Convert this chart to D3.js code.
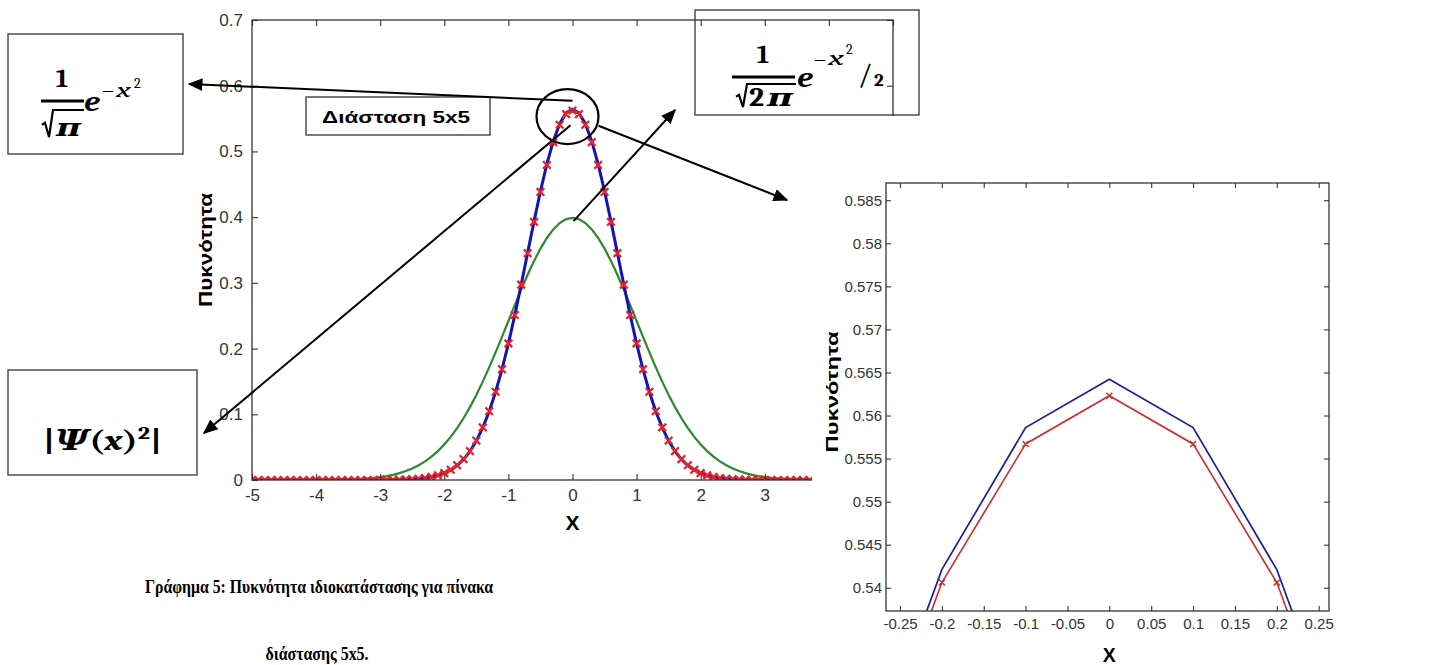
<!DOCTYPE html>
<html>
<head>
<meta charset="utf-8">
<script src="https://cdn.jsdelivr.net/npm/d3@7"></script>
<style>
  body { margin: 0; background: #fff; }
  svg { display: block; }
</style>
</head>
<body>
<svg id="chart"></svg>
<script>
// sample points of the eigenstate (x = -5 .. 5, step 0.1)
const xValues = [
  -5.0, -4.9, -4.8, -4.7, -4.6, -4.5, -4.4, -4.3, -4.2, -4.1,
  -4.0, -3.9, -3.8, -3.7, -3.6, -3.5, -3.4, -3.3, -3.2, -3.1,
  -3.0, -2.9, -2.8, -2.7, -2.6, -2.5, -2.4, -2.3, -2.2, -2.1,
  -2.0, -1.9, -1.8, -1.7, -1.6, -1.5, -1.4, -1.3, -1.2, -1.1,
  -1.0, -0.9, -0.8, -0.7, -0.6, -0.5, -0.4, -0.3, -0.2, -0.1,
  0.0,
  0.1, 0.2, 0.3, 0.4, 0.5, 0.6, 0.7, 0.8, 0.9, 1.0,
  1.1, 1.2, 1.3, 1.4, 1.5, 1.6, 1.7, 1.8, 1.9, 2.0,
  2.1, 2.2, 2.3, 2.4, 2.5, 2.6, 2.7, 2.8, 2.9, 3.0,
  3.1, 3.2, 3.3, 3.4, 3.5, 3.6, 3.7, 3.8, 3.9, 4.0,
  4.1, 4.2, 4.3, 4.4, 4.5, 4.6, 4.7, 4.8, 4.9, 5.0
];

// |Psi(x)^2| (red x markers)
const psiSquared = [
  0, 0, 0, 0, 0, 0, 0, 0, 0, 0,
  0, 0, 0, 0, 0, 0, 0, 0, 0, 0,
  0.0001, 0.0002, 0.0003, 0.0005, 0.0008, 0.0012, 0.0019, 0.0030, 0.0047, 0.0071,
  0.0106, 0.0156, 0.0225, 0.0318, 0.0441, 0.0600, 0.0801, 0.1047, 0.1343, 0.1687,
  0.2079, 0.2511, 0.2973, 0.3451, 0.3928, 0.4383, 0.4795, 0.5141, 0.5406, 0.5567,
  0.5623,
  0.5567, 0.5406, 0.5141, 0.4795, 0.4383, 0.3928, 0.3451, 0.2973, 0.2511, 0.2079,
  0.1687, 0.1343, 0.1047, 0.0801, 0.0600, 0.0441, 0.0318, 0.0225, 0.0156, 0.0106,
  0.0071, 0.0047, 0.0030, 0.0019, 0.0012, 0.0008, 0.0005, 0.0003, 0.0002, 0.0001,
  0, 0, 0, 0, 0, 0, 0, 0, 0, 0,
  0, 0, 0, 0, 0, 0, 0, 0, 0, 0
];

// (1/sqrt(pi)) e^(-x^2) (blue line)
const gaussNarrow = [
  0, 0, 0, 0, 0, 0, 0, 0, 0, 0,
  0, 0, 0, 0, 0, 0, 0, 0, 0, 0,
  0.0001, 0.0001, 0.0002, 0.0004, 0.0007, 0.0011, 0.0018, 0.0028, 0.0045, 0.0069,
  0.0103, 0.0153, 0.0221, 0.0314, 0.0436, 0.0595, 0.0795, 0.1041, 0.1337, 0.1682,
  0.2076, 0.2510, 0.2975, 0.3456, 0.3936, 0.4394, 0.4808, 0.5156, 0.5421, 0.5586,
  0.5642,
  0.5586, 0.5421, 0.5156, 0.4808, 0.4394, 0.3936, 0.3456, 0.2975, 0.2510, 0.2076,
  0.1682, 0.1337, 0.1041, 0.0795, 0.0595, 0.0436, 0.0314, 0.0221, 0.0153, 0.0103,
  0.0069, 0.0045, 0.0028, 0.0018, 0.0011, 0.0007, 0.0004, 0.0002, 0.0001, 0.0001,
  0, 0, 0, 0, 0, 0, 0, 0, 0, 0,
  0, 0, 0, 0, 0, 0, 0, 0, 0, 0
];

// (1/sqrt(2pi)) e^(-x^2/2) (green line)
const gaussWide = [
  0, 0, 0, 0, 0, 0, 0, 0, 0, 0,
  0.0001, 0.0002, 0.0003, 0.0004, 0.0006, 0.0009, 0.0012, 0.0017, 0.0024, 0.0033,
  0.0044, 0.0060, 0.0079, 0.0104, 0.0136, 0.0175, 0.0224, 0.0283, 0.0355, 0.0440,
  0.0540, 0.0656, 0.0790, 0.0940, 0.1109, 0.1295, 0.1497, 0.1714, 0.1942, 0.2179,
  0.2420, 0.2661, 0.2897, 0.3123, 0.3332, 0.3521, 0.3683, 0.3814, 0.3910, 0.3970,
  0.3989,
  0.3970, 0.3910, 0.3814, 0.3683, 0.3521, 0.3332, 0.3123, 0.2897, 0.2661, 0.2420,
  0.2179, 0.1942, 0.1714, 0.1497, 0.1295, 0.1109, 0.0940, 0.0790, 0.0656, 0.0540,
  0.0440, 0.0355, 0.0283, 0.0224, 0.0175, 0.0136, 0.0104, 0.0079, 0.0060, 0.0044,
  0.0033, 0.0024, 0.0017, 0.0012, 0.0009, 0.0006, 0.0004, 0.0003, 0.0002, 0.0001,
  0, 0, 0, 0, 0, 0, 0, 0, 0, 0
];

const mainXTicks = [-5, -4, -3, -2, -1, 0, 1, 2, 3, 4, 5];
const mainYTicks = [0, 0.1, 0.2, 0.3, 0.4, 0.5, 0.6, 0.7];
const zoomXTicks = [-0.25, -0.2, -0.15, -0.1, -0.05, 0, 0.05, 0.1, 0.15, 0.2, 0.25];
const zoomYTicks = [0.54, 0.545, 0.55, 0.555, 0.56, 0.565, 0.57, 0.575, 0.58, 0.585];

const points = xValues.map((x, i) => ({
  x: x, psi: psiSquared[i], narrow: gaussNarrow[i], wide: gaussWide[i]
}));

const svgWidth = 1456;
const svgHeight = 665;
const sans = 'Arial, "Liberation Sans", Helvetica, sans-serif';
const serif = '"Times New Roman", "Liberation Serif", serif';
const mathFont = 'Cambria, "DejaVu Serif", "Liberation Serif", serif';

const svg = d3.select('#chart')
    .attr('width', svgWidth)
    .attr('height', svgHeight);

svg.append('rect')
    .attr('width', svgWidth)
    .attr('height', svgHeight)
    .attr('fill', '#fff');

const defs = svg.append('defs');

defs.append('marker')
    .attr('id', 'arrow')
    .attr('viewBox', '0 0 10 10')
    .attr('refX', 9)
    .attr('refY', 5)
    .attr('markerWidth', 7.5)
    .attr('markerHeight', 7.5)
    .attr('markerUnits', 'strokeWidth')
    .attr('orient', 'auto')
    .append('path')
    .attr('d', 'M0,0.8 L10,5 L0,9.2 z')
    .attr('fill', '#000');

// draws x shaped markers through the given scales
function crossPath(xs, ys, key, s) {
  return points.map(d => {
    const cx = xs(d.x), cy = ys(d[key]);
    return `M${cx - s},${cy - s}L${cx + s},${cy + s}M${cx - s},${cy + s}L${cx + s},${cy - s}`;
  }).join('');
}

// box axes in the Matlab style: ticks inside on all four sides
function boxAxes(g, xs, ys, xTicks, yTicks, fontSize, padX, padY, tick) {
  const [x0, x1] = xs.range();
  const [y0, y1] = ys.range();
  const fmt = d => String(d);

  const bottom = g.append('g')
      .attr('transform', `translate(0,${y0})`)
      .call(d3.axisBottom(xs).tickValues(xTicks).tickSize(-tick).tickPadding(padX).tickFormat(fmt));
  const left = g.append('g')
      .attr('transform', `translate(${x0},0)`)
      .call(d3.axisLeft(ys).tickValues(yTicks).tickSize(-tick).tickPadding(padY).tickFormat(fmt));
  const top = g.append('g')
      .attr('transform', `translate(0,${y1})`)
      .call(d3.axisTop(xs).tickValues(xTicks).tickSize(-tick).tickFormat(''));
  const right = g.append('g')
      .attr('transform', `translate(${x1},0)`)
      .call(d3.axisRight(ys).tickValues(yTicks).tickSize(-tick).tickFormat(''));

  [bottom, left, top, right].forEach(a => {
    a.selectAll('.domain').remove();
    a.selectAll('line').attr('stroke', '#333').attr('stroke-width', 1.1);
    a.selectAll('text')
        .attr('font-family', sans)
        .attr('font-size', fontSize)
        .attr('fill', '#333');
  });

  g.append('rect')
      .attr('x', x0)
      .attr('y', y1)
      .attr('width', x1 - x0)
      .attr('height', y0 - y1)
      .attr('fill', 'none')
      .attr('stroke', '#333')
      .attr('stroke-width', 1.3);
}

// ---------- main plot ----------
const xMain = d3.scaleLinear().domain([-5, 5]).range([252, 893]);
const yMain = d3.scaleLinear().domain([0, 0.7]).range([480, 20]);

defs.append('clipPath').attr('id', 'clip-main')
    .append('rect')
    .attr('x', 252).attr('y', 20).attr('width', 641).attr('height', 460);

const main = svg.append('g');
const mainData = main.append('g').attr('clip-path', 'url(#clip-main)');

mainData.append('path')
    .datum(points)
    .attr('fill', 'none')
    .attr('stroke', '#2b8a2b')
    .attr('stroke-width', 2.2)
    .attr('d', d3.line().x(d => xMain(d.x)).y(d => yMain(d.wide)));

mainData.append('path')
    .datum(points)
    .attr('fill', 'none')
    .attr('stroke', '#1414b4')
    .attr('stroke-width', 3)
    .attr('d', d3.line().x(d => xMain(d.x)).y(d => yMain(d.narrow)));

mainData.append('path')
    .attr('fill', 'none')
    .attr('stroke', '#e42428')
    .attr('stroke-width', 2.3)
    .attr('d', crossPath(xMain, yMain, 'psi', 3.8));

boxAxes(main, xMain, yMain, mainXTicks, mainYTicks, '17px', 9, 9, 6);

main.append('text')
    .attr('transform', 'translate(212,250) rotate(-90)')
    .attr('text-anchor', 'middle')
    .attr('font-family', sans)
    .attr('font-weight', 'bold')
    .attr('font-size', '19px')
    .attr('textLength', 114)
    .attr('lengthAdjust', 'spacingAndGlyphs')
    .text('Πυκνότητα');

main.append('text')
    .attr('x', xMain(0))
    .attr('y', 530)
    .attr('text-anchor', 'middle')
    .attr('font-family', sans)
    .attr('font-weight', 'bold')
    .attr('font-size', '20px')
    .attr('textLength', 14)
    .attr('lengthAdjust', 'spacingAndGlyphs')
    .text('X');

// "Διάσταση 5x5" label box
main.append('rect')
    .attr('x', 306).attr('y', 97).attr('width', 184).attr('height', 38)
    .attr('fill', '#fff')
    .attr('stroke', '#333')
    .attr('stroke-width', 1.3);

main.append('text')
    .attr('x', 322)
    .attr('y', 123)
    .attr('font-family', sans)
    .attr('font-weight', 'bold')
    .attr('font-size', '17px')
    .attr('textLength', 148)
    .attr('lengthAdjust', 'spacingAndGlyphs')
    .text('Διάσταση 5x5');

// ---------- zoomed plot (pasted figure, covers the right part) ----------
svg.append('rect')
    .attr('x', 812).attr('y', 116)
    .attr('width', svgWidth - 812).attr('height', svgHeight - 116)
    .attr('fill', '#fff');

const xZoom = d3.scaleLinear().domain([-0.2667, 0.2623]).range([886, 1329]);
const yZoom = d3.scaleLinear().domain([0.5373, 0.587]).range([611, 183]);

defs.append('clipPath').attr('id', 'clip-zoom')
    .append('rect')
    .attr('x', 886).attr('y', 183).attr('width', 443).attr('height', 428);

const zoom = svg.append('g');
const zoomData = zoom.append('g').attr('clip-path', 'url(#clip-zoom)');

zoomData.append('path')
    .datum(points)
    .attr('fill', 'none')
    .attr('stroke', '#1c1ca0')
    .attr('stroke-width', 1.7)
    .attr('d', d3.line().x(d => xZoom(d.x)).y(d => yZoom(d.narrow)));

zoomData.append('path')
    .datum(points)
    .attr('fill', 'none')
    .attr('stroke', '#d02a2a')
    .attr('stroke-width', 1.6)
    .attr('d', d3.line().x(d => xZoom(d.x)).y(d => yZoom(d.psi)));

zoomData.append('path')
    .attr('fill', 'none')
    .attr('stroke', '#d02a2a')
    .attr('stroke-width', 1.5)
    .attr('d', crossPath(xZoom, yZoom, 'psi', 3));

boxAxes(zoom, xZoom, yZoom, zoomXTicks, zoomYTicks, '15px', 7, 4, 5);

zoom.append('text')
    .attr('transform', 'translate(838,392) rotate(-90)')
    .attr('text-anchor', 'middle')
    .attr('font-family', sans)
    .attr('font-weight', 'bold')
    .attr('font-size', '17px')
    .attr('textLength', 121)
    .attr('lengthAdjust', 'spacingAndGlyphs')
    .text('Πυκνότητα');

zoom.append('text')
    .attr('x', xZoom(0))
    .attr('y', 662)
    .attr('text-anchor', 'middle')
    .attr('font-family', sans)
    .attr('font-weight', 'bold')
    .attr('font-size', '21px')
    .attr('textLength', 13)
    .attr('lengthAdjust', 'spacingAndGlyphs')
    .text('X');

// ---------- annotations ----------
const notes = svg.append('g');

notes.append('ellipse')
    .attr('cx', xMain(0) - 5)
    .attr('cy', yMain(0.553))
    .attr('rx', 31)
    .attr('ry', 27.5)
    .attr('fill', 'none')
    .attr('stroke', '#000')
    .attr('stroke-width', 2.2);

const arrows = [
  { x1: xMain(0), y1: yMain(0.577), x2: 189, y2: 84 },
  { x1: xMain(0) + 26, y1: yMain(0.539), x2: 787, y2: 200 },
  { x1: xMain(0) + 1, y1: yMain(0.394), x2: 675, y2: 110 },
  { x1: xMain(0) - 2, y1: yMain(0.540), x2: 204, y2: 433 }
];

notes.selectAll('line.arrow')
    .data(arrows)
    .enter()
    .append('line')
    .attr('class', 'arrow')
    .attr('x1', d => d.x1)
    .attr('y1', d => d.y1)
    .attr('x2', d => d.x2)
    .attr('y2', d => d.y2)
    .attr('stroke', '#000')
    .attr('stroke-width', 2)
    .attr('marker-end', 'url(#arrow)');

// formula boxes
const boxes = [
  { x: 8, y: 34, w: 175, h: 120 },
  { x: 695, y: 10, w: 224, h: 105 },
  { x: 8, y: 370, w: 189, h: 105 }
];

notes.selectAll('rect.formula')
    .data(boxes)
    .enter()
    .append('rect')
    .attr('class', 'formula')
    .attr('x', d => d.x)
    .attr('y', d => d.y)
    .attr('width', d => d.w)
    .attr('height', d => d.h)
    .attr('fill', 'none')
    .attr('stroke', '#333')
    .attr('stroke-width', 1.3);

function mathText(g, x, y, str, size, opts = {}) {
  const t = g.append('text')
      .attr('x', x)
      .attr('y', y)
      .attr('font-family', mathFont)
      .attr('font-size', size + 'px')
      .attr('font-weight', opts.weight || 'bold')
      .attr('font-style', opts.italic ? 'italic' : 'normal')
      .attr('text-anchor', opts.anchor || 'start')
      .text(str);
  if (opts.len) t.attr('textLength', opts.len).attr('lengthAdjust', 'spacingAndGlyphs');
  return t;
}

function rule(g, x1, x2, y, w) {
  g.append('line')
      .attr('x1', x1).attr('x2', x2).attr('y1', y).attr('y2', y)
      .attr('stroke', '#000').attr('stroke-width', w);
}

// square root sign drawn as a path, with its bar
function radical(g, x, yTop, yBottom, xEnd) {
  const h = yBottom - yTop;
  g.append('path')
      .attr('d', `M${x},${yTop + h * 0.55} L${x + 3},${yTop + h * 0.47} L${x + 7},${yBottom} L${x + 11},${yTop} L${xEnd},${yTop}`)
      .attr('fill', 'none')
      .attr('stroke', '#000')
      .attr('stroke-width', 2.2)
      .attr('stroke-linejoin', 'miter');
}

// 1/sqrt(pi) e^{-x^2}
mathText(notes, 62, 87, '1', 27, { anchor: 'middle' });
rule(notes, 41, 84, 101, 3);
radical(notes, 42, 110, 137, 84);
mathText(notes, 56, 136, 'π', 25, { italic: true, len: 25 });
mathText(notes, 84, 111, 'e', 28, { italic: true, len: 16 });
mathText(notes, 101, 97, '−', 19, { weight: 'normal', len: 14 });
mathText(notes, 116, 97, 'x', 20, { italic: true, weight: 'normal', len: 15 });
mathText(notes, 134, 88, '2', 14, { weight: 'normal' });

// 1/sqrt(2pi) e^{-x^2/2}
mathText(notes, 763, 63, '1', 27, { anchor: 'middle' });
rule(notes, 732, 795, 77, 3);
radical(notes, 736, 84, 107, 796);
mathText(notes, 749, 106, '2', 26, { len: 15 });
mathText(notes, 767, 106, 'π', 25, { italic: true, len: 26 });
mathText(notes, 797, 87, 'e', 28, { italic: true, len: 16 });
mathText(notes, 813, 66, '−', 19, { weight: 'normal', len: 14 });
mathText(notes, 828, 65, 'x', 20, { italic: true, weight: 'normal', len: 16 });
mathText(notes, 846, 54, '2', 14, { weight: 'normal' });
mathText(notes, 858, 84, '/', 30, { weight: 'normal', len: 14 });
mathText(notes, 874, 86, '2', 19);

// |Psi(x)^2|
const psiLabel = notes.append('text')
    .attr('x', 43)
    .attr('y', 450)
    .attr('font-family', mathFont)
    .attr('font-size', '28px')
    .attr('font-weight', 'bold')
    .attr('textLength', 119)
    .attr('lengthAdjust', 'spacingAndGlyphs');
psiLabel.append('tspan').text('|');
psiLabel.append('tspan').attr('font-style', 'italic').text('Ψ');
psiLabel.append('tspan').text('(');
psiLabel.append('tspan').attr('font-style', 'italic').text('x');
psiLabel.append('tspan').text(')');
psiLabel.append('tspan').attr('dy', -11).attr('font-size', '18px').text('2');
psiLabel.append('tspan').attr('dy', 11).text('|');

// caption
svg.append('text')
    .attr('x', 319)
    .attr('y', 593)
    .attr('text-anchor', 'middle')
    .attr('font-family', serif)
    .attr('font-weight', 'bold')
    .attr('font-size', '18px')
    .attr('textLength', 348)
    .attr('lengthAdjust', 'spacingAndGlyphs')
    .text('Γράφημα 5: Πυκνότητα ιδιοκατάστασης για πίνακα');

svg.append('text')
    .attr('x', 317)
    .attr('y', 660)
    .attr('text-anchor', 'middle')
    .attr('font-family', serif)
    .attr('font-weight', 'bold')
    .attr('font-size', '18px')
    .attr('textLength', 103)
    .attr('lengthAdjust', 'spacingAndGlyphs')
    .text('διάστασης 5x5.');
</script>
</body>
</html>
